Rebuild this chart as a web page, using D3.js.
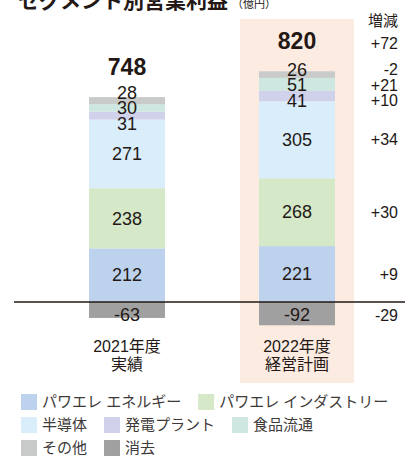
<!DOCTYPE html>
<html>
<head>
<meta charset="utf-8">
<script src="https://cdn.jsdelivr.net/npm/d3@7"></script>
<style>
  body { margin: 0; background: #fff; }
  text { font-family: "Liberation Sans", "Noto Sans CJK JP", sans-serif; fill: #231815; }
</style>
</head>
<body>
<svg width="405" height="457"></svg>
<script>
var categories = ["2021年度\n実績", "2022年度\n経営計画"];
var segments = ["パワエレ エネルギー", "パワエレ インダストリー", "半導体", "発電プラント", "食品流通", "その他", "消去"];
var values2021 = [212, 238, 271, 31, 30, 28, -63];
var values2022 = [221, 268, 305, 41, 51, 26, -92];
var totals = [748, 820];
var deltas = ["+9", "+30", "+34", "+10", "+21", "-2", "-29"];
var deltaTotal = "+72";
var colors = ["#bdd3ed", "#d5e9c9", "#d9eefa", "#d0d1eb", "#cee7e1", "#c9caca", "#a0a0a0"];
var legendRows = [[0, 1], [2, 3, 4], [5, 6]];

var svg = d3.select("svg");
var zeroY = 302;

var table = categories.map(function(c, i) {
  var row = {cat: c};
  var vals = i === 0 ? values2021 : values2022;
  segments.forEach(function(s, j) { row[s] = vals[j]; });
  return row;
});

var x = d3.scaleBand().domain(categories).range([42, 382])
    .paddingInner(0.553).paddingOuter(0.2765);
var y = d3.scaleLinear().domain([0, 912]).range([zeroY, 71.3]);

var stack = d3.stack().keys(segments).offset(d3.stackOffsetDiverging);
var series = stack(table);

// title (cut at top)
var title = svg.append("text").attr("x", 18).attr("y", 8)
    .style("font-size", "21px").style("font-weight", "bold")
    .text("セグメント別営業利益");
title.append("tspan").style("font-size", "11px").style("font-weight", "normal")
    .attr("dx", 4).text("（億円）");

// highlight for plan
svg.append("rect")
    .attr("x", x(categories[1]) - 19).attr("y", 19)
    .attr("width", x.bandwidth() + 38).attr("height", 364)
    .attr("fill", "#fcebe1");

// bars
var g = svg.append("g");
series.forEach(function(s, j) {
  g.selectAll(".seg" + j).data(s).enter().append("rect")
      .attr("x", function(d) { return x(d.data.cat); })
      .attr("y", function(d) { return y(Math.max(d[0], d[1])); })
      .attr("width", x.bandwidth())
      .attr("height", function(d) { return Math.abs(y(d[0]) - y(d[1])); })
      .attr("fill", colors[j]);
});

// zero line
svg.append("line").attr("x1", 14).attr("x2", 405)
    .attr("y1", y(0)).attr("y2", y(0))
    .attr("stroke", "#231815").attr("stroke-width", 1.6);

// label positions with simple overlap resolution
function labelPositions(ci) {
  var pos = series.map(function(s) {
    var d = s[ci];
    var c = (y(d[0]) + y(d[1])) / 2;
    if (d.data[s.key] < 0) c = Math.max(c, y(0) + 13);
    return c;
  });
  var minGap = 15.5;
  var idx = [5, 4, 3, 2, 1, 0];
  var groups = [[idx[0]]];
  for (var k = 1; k < idx.length; k++) {
    var last = groups[groups.length - 1];
    if (pos[idx[k]] - pos[last[last.length - 1]] < minGap) last.push(idx[k]);
    else groups.push([idx[k]]);
  }
  groups.forEach(function(gr) {
    if (gr.length < 2) return;
    var mean = d3.mean(gr, function(i) { return pos[i]; });
    gr.forEach(function(i, n) { pos[i] = mean + (n - (gr.length - 1) / 2) * minGap; });
  });
  return pos;
}

categories.forEach(function(c, ci) {
  var vals = ci === 0 ? values2021 : values2022;
  var pos = labelPositions(ci);
  var cx = x(c) + x.bandwidth() / 2;
  var topY = y(d3.sum(vals.filter(function(v) { return v > 0; }))) - 22;
  segments.forEach(function(s, j) {
    svg.append("text").attr("x", cx).attr("y", pos[j]).attr("dy", "0.35em")
        .attr("text-anchor", "middle").style("font-size", "18px")
        .text(vals[j]);
  });
  svg.append("text").attr("x", cx).attr("y", topY)
      .attr("text-anchor", "middle").style("font-size", "23px").style("font-weight", "bold")
      .text(totals[ci]);
  c.split("\n").forEach(function(line, li) {
    svg.append("text").attr("x", cx).attr("y", 352 + li * 18)
        .attr("text-anchor", "middle").style("font-size", "16px").text(line);
  });
  if (ci === 1) {
    segments.forEach(function(s, j) {
      svg.append("text").attr("x", 398).attr("y", pos[j]).attr("dy", "0.35em")
          .attr("text-anchor", "end").style("font-size", "16px")
          .text(deltas[j]);
    });
    svg.append("text").attr("x", 398).attr("y", topY)
        .attr("text-anchor", "end").style("font-size", "16px")
        .text(deltaTotal);
  }
});

svg.append("text").attr("x", 398).attr("y", 26).attr("text-anchor", "end")
    .style("font-size", "15px").text("増減");

// legend
legendRows.forEach(function(row, r) {
  var lx = 21, ly = 402 + r * 23;
  row.forEach(function(j) {
    svg.append("rect").attr("x", lx).attr("y", ly - 8).attr("width", 16).attr("height", 16)
        .attr("fill", colors[j]);
    var t = svg.append("text").attr("x", lx + 21).attr("y", ly).attr("dy", "0.35em")
        .style("font-size", "15px").style("fill", "#3e3a39").text(segments[j]);
    lx += 21 + t.node().getComputedTextLength() + 17;
  });
});
</script>
</body>
</html>
